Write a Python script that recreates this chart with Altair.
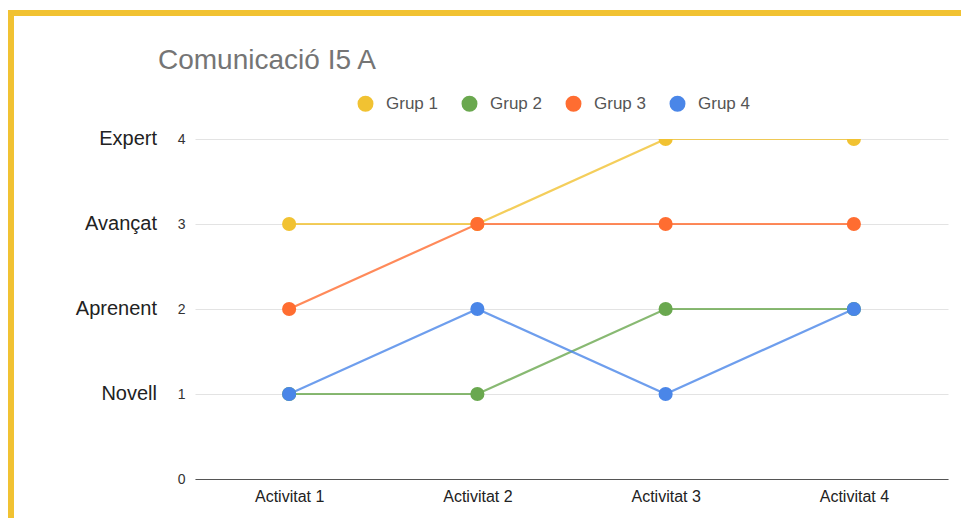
import altair as alt
import pandas as pd

activitats = ["Activitat 1", "Activitat 2", "Activitat 3", "Activitat 4"]
grups = ["Grup 1", "Grup 2", "Grup 3", "Grup 4"]
grup1 = [3, 3, 4, 4]
grup2 = [1, 1, 2, 2]
grup3 = [2, 3, 3, 3]
grup4 = [1, 2, 1, 2]
colors = ["#f1c232", "#6aa84f", "#ff6d31", "#4a86e8"]
nivells = ["Novell", "Aprenent", "Avançat", "Expert"]
nivell_vals = [1, 2, 3, 4]
y_ticks = [0, 1, 2, 3, 4]

rows = []
for g, vals in zip(grups, [grup1, grup2, grup3, grup4]):
    for a, v in zip(activitats, vals):
        rows.append({"grup": g, "activitat": a, "valor": v})
df = pd.DataFrame(rows)
df_niv = pd.DataFrame({"nivell": nivells, "valor": nivell_vals})

FONT = "Liberation Sans"
W, H = 753, 340

x_enc = alt.X("activitat:N", sort=activitats, title=None,
              axis=alt.Axis(labelAngle=0, ticks=False, grid=False, domain=True,
                            domainColor="#555555", domainWidth=1.2,
                            labelFontSize=16, labelColor="#222222",
                            labelFont=FONT, labelPadding=9))
y_scale = alt.Scale(domain=[0, 4], nice=False, zero=True)
y_enc = alt.Y("valor:Q", scale=y_scale, title=None,
              axis=alt.Axis(values=y_ticks, format="d", ticks=False, domain=False,
                            grid=True, gridColor="#e3e3e3", gridWidth=1.2,
                            labelFontSize=14, labelColor="#333333",
                            labelFont=FONT, labelPadding=10))
color_scale = alt.Scale(domain=grups, range=colors)
legend = alt.Legend(title=None, orient="none", direction="horizontal",
                    legendX=162, legendY=-44,
                    symbolType="circle", symbolSize=254,
                    symbolStrokeWidth=0, symbolOpacity=1,
                    labelFontSize=17, labelColor="#555555",
                    labelFont=FONT, labelOffset=12,
                    columnPadding=23)

base = alt.Chart(df)
lines = base.mark_line(strokeWidth=2.2, clip=True, opacity=0.8).encode(
    x=x_enc, y=y_enc,
    color=alt.Color("grup:N", scale=color_scale, legend=legend),
    detail="grup:N",
)
points = base.mark_circle(size=200, opacity=1, clip=True).encode(
    x=x_enc, y=y_enc,
    color=alt.Color("grup:N", scale=color_scale, legend=legend),
)
labels = alt.Chart(df_niv).mark_text(align="right", baseline="middle", fontSize=20,
                                     font=FONT, color="#222222").encode(
    x=alt.value(-38),
    y=alt.Y("valor:Q", scale=y_scale),
    text="nivell:N",
)
frame_top = alt.Chart(df_niv).mark_rule(color="#f1c232", strokeWidth=6).encode(
    x=alt.value(-187), x2=alt.value(780), y=alt.value(-126)
)
frame_left = alt.Chart(df_niv).mark_rule(color="#f1c232", strokeWidth=6).encode(
    x=alt.value(-184), y=alt.value(-129), y2=alt.value(400)
)

chart = alt.layer(frame_top, frame_left, lines, points, labels).properties(
    width=W, height=H,
    title=alt.TitleParams("Comunicació I5 A", anchor="start", frame="group",
                          dx=-37, dy=90, offset=0, baseline="alphabetic",
                          fontSize=28, font=FONT, fontWeight="normal",
                          color="#757575"),
    autosize=alt.AutoSizeParams(type="none"),
    padding={"left": 187, "top": 131, "right": 13, "bottom": 39},
).configure(background="white").configure_view(stroke=None)

chart.save("out.html", embed_options={"renderer": "svg", "actions": False})
